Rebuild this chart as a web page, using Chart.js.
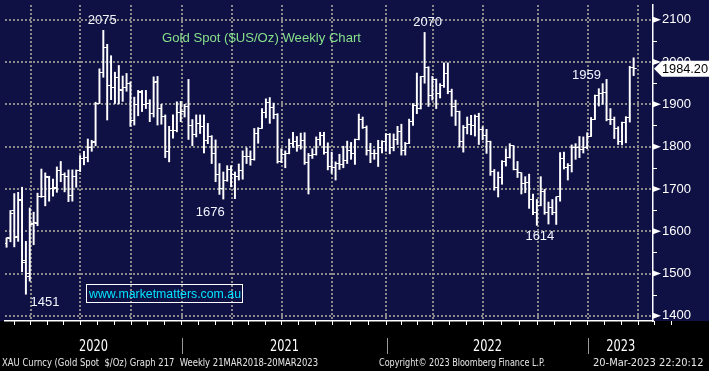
<!DOCTYPE html>
<html>
<head>
<meta charset="utf-8">
<script src="https://cdn.jsdelivr.net/npm/chart.js@4.4.0/dist/chart.umd.min.js"></script>
<style>
  html, body { margin: 0; padding: 0; background: #000; }
  #chart { display: block; }
</style>
</head>
<body>
<canvas id="chart" width="709" height="371"></canvas>
<script>
// weekly bars, week 0 = week of 10 Feb 2020, last = week of 20 Mar 2023
const opens = [
  1570, 1582, 1648, 1587, 1672, 1527, 1494, 1618, 1619, 1681, 1681, 1728, 1702, 1703, 1744, 1734,
  1730, 1685, 1730, 1744, 1771, 1775, 1799, 1811, 1902, 1976, 2035, 1944, 1940, 1964, 1933, 1940,
  1950, 1861, 1900, 1929, 1900, 1901, 1878, 1953, 1889, 1871, 1788, 1839, 1839, 1881, 1883,
  // 2021
  1895, 1850, 1828, 1855, 1848, 1814, 1824, 1784, 1734, 1700, 1719, 1745, 1733, 1729, 1744, 1777,
  1777, 1769, 1831, 1844, 1881, 1905, 1892, 1877, 1764, 1781, 1783, 1808, 1811, 1802, 1814, 1763,
  1779, 1781, 1818, 1827, 1787, 1754, 1750, 1761, 1757, 1767, 1792, 1783, 1818, 1865, 1846, 1792,
  1783, 1783, 1798, 1811,
  // 2022
  1829, 1797, 1817, 1836, 1791, 1808, 1859, 1898, 1889, 1966, 1988, 1921, 1958, 1925, 1945, 1974,
  1931, 1896, 1883, 1811, 1846, 1853, 1851, 1871, 1840, 1827, 1811, 1742, 1703, 1727, 1766, 1775,
  1802, 1747, 1738, 1712, 1716, 1675, 1644, 1661, 1695, 1644, 1657, 1645, 1681, 1771, 1751, 1755,
  1797, 1797, 1793, 1798,
  // 2023
  1824, 1865, 1920, 1926, 1928, 1865, 1865, 1842, 1811, 1856, 1868, 1988
];
const highs = [
  1584, 1649, 1689, 1692, 1704, 1576, 1655, 1645, 1690, 1747, 1738, 1730, 1723, 1752, 1765, 1738,
  1745, 1745, 1745, 1779, 1789, 1818, 1815, 1905, 1984, 2075, 2042, 2015, 1976, 1992, 1967, 1973,
  1953, 1917, 1933, 1933, 1933, 1911, 1965, 1966, 1900, 1875, 1848, 1875, 1906, 1907, 1900,
  // 2021
  1959, 1864, 1875, 1875, 1875, 1855, 1826, 1816, 1760, 1740, 1755, 1755, 1740, 1759, 1790, 1797,
  1790, 1843, 1845, 1890, 1913, 1916, 1903, 1878, 1795, 1790, 1818, 1834, 1824, 1832, 1833, 1784,
  1795, 1823, 1834, 1834, 1809, 1787, 1764, 1782, 1801, 1813, 1810, 1818, 1877, 1870, 1849, 1808,
  1793, 1815, 1814, 1831,
  // 2022
  1831, 1830, 1848, 1853, 1810, 1865, 1902, 1974, 1966, 2070, 1989, 1966, 1960, 1949, 1998, 1998,
  1936, 1910, 1884, 1850, 1870, 1874, 1875, 1879, 1847, 1841, 1813, 1746, 1740, 1767, 1795, 1807,
  1802, 1765, 1738, 1729, 1735, 1688, 1675, 1729, 1699, 1669, 1675, 1681, 1786, 1787, 1760, 1804,
  1807, 1824, 1823, 1833,
  // 2023
  1869, 1922, 1937, 1949, 1959, 1890, 1870, 1847, 1858, 1871, 1990, 2010
];
const lows = [
  1562, 1575, 1563, 1576, 1504, 1451, 1482, 1568, 1613, 1680, 1660, 1671, 1683, 1692, 1717, 1693,
  1670, 1671, 1704, 1741, 1757, 1764, 1789, 1802, 1902, 1964, 1863, 1911, 1902, 1901, 1907, 1931,
  1848, 1851, 1873, 1883, 1890, 1859, 1870, 1851, 1853, 1774, 1764, 1820, 1835, 1859, 1870,
  // 2021
  1817, 1802, 1823, 1831, 1785, 1807, 1760, 1717, 1687, 1676, 1718, 1705, 1677, 1721, 1723, 1760,
  1756, 1768, 1808, 1843, 1868, 1855, 1866, 1761, 1762, 1750, 1783, 1798, 1789, 1794, 1758, 1688,
  1772, 1780, 1803, 1782, 1745, 1737, 1721, 1746, 1750, 1760, 1770, 1758, 1816, 1843, 1780, 1762,
  1770, 1753, 1785, 1789,
  // 2022
  1783, 1790, 1805, 1780, 1780, 1807, 1850, 1878, 1889, 1950, 1895, 1910, 1890, 1915, 1940, 1925,
  1872, 1850, 1799, 1787, 1830, 1828, 1825, 1805, 1816, 1784, 1732, 1697, 1681, 1711, 1754, 1773,
  1745, 1727, 1688, 1691, 1654, 1639, 1614, 1660, 1640, 1617, 1639, 1616, 1671, 1747, 1721, 1740,
  1770, 1774, 1785, 1795,
  // 2023
  1824, 1864, 1896, 1900, 1861, 1852, 1819, 1805, 1804, 1809, 1858, 1968
];
const closes = [
  1584, 1643, 1585, 1674, 1530, 1499, 1617, 1620, 1683, 1683, 1729, 1700, 1702, 1743, 1735, 1730,
  1685, 1730, 1743, 1771, 1775, 1799, 1810, 1902, 1975, 2035, 1944, 1940, 1964, 1934, 1940, 1950,
  1861, 1900, 1930, 1900, 1902, 1879, 1952, 1889, 1872, 1788, 1839, 1839, 1881, 1883, 1895,
  // 2021
  1850, 1828, 1855, 1848, 1814, 1824, 1784, 1734, 1700, 1719, 1745, 1733, 1729, 1744, 1777, 1777,
  1769, 1831, 1844, 1881, 1905, 1892, 1877, 1764, 1781, 1783, 1808, 1811, 1802, 1814, 1763, 1779,
  1781, 1818, 1827, 1787, 1754, 1750, 1761, 1757, 1767, 1792, 1783, 1818, 1865, 1846, 1792, 1783,
  1783, 1798, 1811, 1829,
  // 2022
  1797, 1817, 1836, 1791, 1808, 1859, 1898, 1889, 1966, 1988, 1921, 1958, 1925, 1945, 1974, 1931,
  1896, 1883, 1811, 1846, 1853, 1851, 1871, 1840, 1827, 1811, 1742, 1703, 1727, 1766, 1775, 1802,
  1747, 1738, 1712, 1716, 1675, 1644, 1661, 1695, 1644, 1657, 1645, 1681, 1771, 1751, 1755, 1797,
  1797, 1793, 1798, 1824,
  // 2023
  1865, 1920, 1926, 1928, 1865, 1865, 1842, 1811, 1856, 1868, 1988, 1984.2
];

// axis ticks (right price axis, quarter grid, year bands along the bottom)
const priceTicks = [1400, 1500, 1600, 1700, 1800, 1900, 2000, 2100];
const quarterTicks = [6.27, 19.08, 32.16, 45.23, 58.31, 71.12, 84.2, 98.04, 110.09, 123.17, 137.27, 150.08, 163.16];
const years = ['2020', '2021', '2022', '2023'];
const yearBreaks = [45.35, 98.2, 150.3];

// labelled turning points
const calloutWeeks = [5, 25, 56, 108, 137, 155];
const calloutLevels = [1451, 2075, 1676, 2070, 1614, 1959];

const NAVY = '#0f1043';
const GRID = '#8a8a8a';
const SANS = '"Liberation Sans", Arial, sans-serif';
const NARROW = '"Liberation Sans Narrow", "DejaVu Sans Condensed", "Liberation Sans", sans-serif';

const monthTicks = [];
quarterTicks.forEach((q, i) => {
  const step = i < quarterTicks.length - 1 ? (quarterTicks[i + 1] - q) / 3 : 4.33;
  if (i === 0) monthTicks.push(q - step);
  monthTicks.push(q, q + step, q + 2 * step);
});

function tickImage(left) {
  const c = document.createElement('canvas');
  c.width = 8; c.height = 1;
  const g = c.getContext('2d');
  g.fillStyle = '#fff';
  g.fillRect(left ? 1 : 4, 0, 3, 1);
  return c;
}

function noPad(s) {
  s.paddingTop = 0; s.paddingBottom = 0; s.paddingLeft = 0; s.paddingRight = 0;
}

const overlay = {
  id: 'overlay',
  beforeDraw(chart) {
    const { ctx, chartArea: a, width, height } = chart;
    ctx.save();
    ctx.fillStyle = '#000';
    ctx.fillRect(0, 0, width, height);
    ctx.fillStyle = NAVY;
    ctx.fillRect(0, 0, width, a.bottom);
    ctx.restore();
  },
  afterDraw(chart) {
    const { ctx, chartArea: a, width } = chart;
    const x = chart.scales.x, y = chart.scales.y;
    ctx.save();

    // little arrows + minor ticks on the price axis
    ctx.fillStyle = '#fff';
    ctx.strokeStyle = '#fff';
    ctx.lineWidth = 1;
    priceTicks.forEach(v => {
      const py = y.getPixelForValue(v);
      ctx.beginPath();
      ctx.moveTo(a.right, py - 3);
      ctx.lineTo(a.right + 8, py);
      ctx.lineTo(a.right, py + 3);
      ctx.fill();
    });
    for (let v = 1450; v < 2100; v += 100) {
      const py = Math.round(y.getPixelForValue(v)) + 0.5;
      ctx.beginPath();
      ctx.moveTo(a.right, py);
      ctx.lineTo(a.right + 4, py);
      ctx.stroke();
    }

    // last price tag
    const last = closes[closes.length - 1];
    const ly = y.getPixelForValue(last);
    ctx.beginPath();
    ctx.moveTo(a.right + 1, ly);
    ctx.lineTo(a.right + 9, ly - 8);
    ctx.lineTo(width, ly - 8);
    ctx.lineTo(width, ly + 8);
    ctx.lineTo(a.right + 9, ly + 8);
    ctx.closePath();
    ctx.fillStyle = '#fff';
    ctx.fill();
    ctx.fillStyle = '#000';
    ctx.font = '13px ' + SANS;
    ctx.textAlign = 'left';
    ctx.textBaseline = 'middle';
    ctx.fillText(last.toFixed(2), a.right + 9, ly + 1, 46);

    // callouts
    const offsets = [[19, 8], [-1, -10], [-13, 13], [3, -10], [3, 11], [-20, -4]];
    ctx.fillStyle = '#f2f4ff';
    ctx.textAlign = 'center';
    ctx.font = '13px ' + SANS;
    calloutWeeks.forEach((w, i) => {
      ctx.fillText(String(calloutLevels[i]),
        x.getPixelForValue(w) + offsets[i][0],
        y.getPixelForValue(calloutLevels[i]) + offsets[i][1]);
    });

    // title and site box
    ctx.textAlign = 'left';
    ctx.fillStyle = '#86e08a';
    ctx.font = '13.5px ' + SANS;
    ctx.fillText('Gold Spot ($US/Oz) Weekly Chart', 162, 38, 199);
    ctx.strokeStyle = '#fff';
    ctx.strokeRect(86.5, 284.5, 156, 18);
    ctx.fillStyle = '#00e4ff';
    ctx.fillText('www.marketmatters.com.au', 89, 294, 152);

    // year bands under the axis
    const bounds = [a.left, ...yearBreaks.map(v => x.getPixelForValue(v)), a.right];
    ctx.font = '15px ' + NARROW;
    ctx.fillStyle = '#fff';
    ctx.textAlign = 'center';
    years.forEach((yr, i) => {
      ctx.fillText(yr, (bounds[i] + bounds[i + 1]) / 2, 347, 29);
    });
    ctx.strokeStyle = '#9a9a9a';
    yearBreaks.forEach(v => {
      const px = Math.round(x.getPixelForValue(v)) + 0.5;
      ctx.beginPath();
      ctx.moveTo(px, 338);
      ctx.lineTo(px, 354);
      ctx.stroke();
    });

    // footer
    ctx.font = '11px ' + NARROW;
    ctx.fillStyle = '#e6e6e6';
    ctx.textAlign = 'left';
    ctx.fillText('XAU Curncy (Gold Spot  $/Oz) Graph 217  Weekly 21MAR2018-20MAR2023', 2, 363, 316);
    ctx.fillText('Copyright\u00a9 2023 Bloomberg Finance L.P.', 379, 363, 166);
    ctx.fillText('20-Mar-2023 22:20:12', 593, 363, 114);
    ctx.restore();
  }
};

const ranges = highs.map((h, i) => ({ x: i, y: [lows[i], h] }));
const openPts = opens.map((v, i) => ({ x: i, y: v }));
const closePts = closes.map((v, i) => ({ x: i, y: v }));

new Chart(document.getElementById('chart'), {
  type: 'bar',
  data: {
    datasets: [
      { type: 'bar', data: ranges, backgroundColor: '#fff', borderWidth: 0, barThickness: 1.3 },
      { type: 'line', data: openPts, showLine: false, pointStyle: tickImage(true), pointRadius: 4, pointHoverRadius: 4 },
      { type: 'line', data: closePts, showLine: false, pointStyle: tickImage(false), pointRadius: 4, pointHoverRadius: 4 }
    ]
  },
  options: {
    responsive: false,
    animation: false,
    events: [],
    layout: { padding: 0 },
    plugins: { legend: { display: false }, tooltip: { enabled: false } },
    scales: {
      x: {
        type: 'linear', position: 'bottom', weight: 0,
        min: -0.4, max: 167, offset: false,
        ticks: { display: false },
        grid: { offset: false, color: GRID, lineWidth: 2, drawTicks: false },
        border: { display: true, color: '#fff', width: 1.5, dash: [2, 2] },
        afterBuildTicks: s => { s.ticks = quarterTicks.map(v => ({ value: v })); },
        afterFit: s => { s.height = 0; noPad(s); }
      },
      x2: {
        type: 'linear', axis: 'x', position: 'bottom', weight: 1,
        min: -0.4, max: 167, offset: false,
        ticks: { display: false },
        grid: { offset: false, drawOnChartArea: true, color: 'rgba(0,0,0,0)', drawTicks: true, tickLength: 4, tickColor: '#fff', tickWidth: 1 },
        border: { display: false },
        afterBuildTicks: s => { s.ticks = monthTicks.map(v => ({ value: v })); },
        afterFit: s => { s.height = 50; noPad(s); }
      },
      y: {
        type: 'linear', position: 'right',
        min: 1387.7, max: 2134.9,
        ticks: { color: '#fff', font: { family: SANS, size: 13 }, padding: 9, callback: v => String(v) },
        grid: { color: GRID, lineWidth: 2, drawTicks: false },
        border: { display: true, color: '#fff', width: 1.5, dash: [2, 2] },
        afterBuildTicks: s => { s.ticks = priceTicks.map(v => ({ value: v })); },
        afterFit: s => { s.width = 56; noPad(s); }
      }
    }
  },
  plugins: [overlay]
});
</script>
</body>
</html>
